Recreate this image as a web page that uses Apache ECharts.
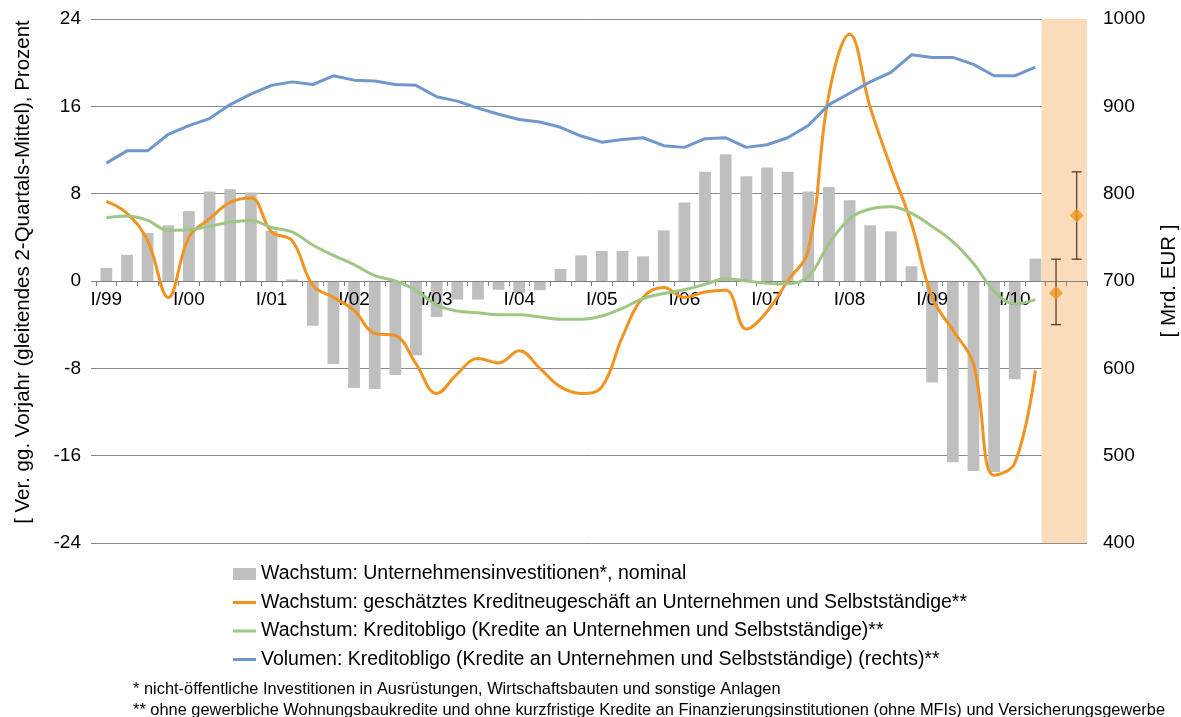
<!DOCTYPE html>
<html>
<head>
<meta charset="utf-8">
<script src="https://cdn.jsdelivr.net/npm/echarts@6/dist/echarts.min.js"></script>
<style>
html,body{margin:0;padding:0;background:#fff;}
#chart{width:1181px;height:717px;}
</style>
</head>
<body>
<div id="chart"></div>
<script>
// Quarters I/99 ... IV/10
const years = ['99','00','01','02','03','04','05','06','07','08','09','10'];
const quarterNames = ['I','II','III','IV'];
const categories = [];
years.forEach(y => quarterNames.forEach(q => categories.push(q + '/' + y)));

// Growth: business investment (bars, %)
const investGrowth = [1.2, 2.4, 4.4, 5.1, 6.4, 8.2, 8.4, 8.1, 4.6, 0.15, -4.1, -7.6,
  -9.8, -9.9, -8.6, -6.8, -3.3, -1.7, -1.7, -0.8, -1.1, -0.85, 1.1, 2.35,
  2.75, 2.75, 2.26, 4.64, 7.2, 10.0, 11.6, 9.6, 10.4, 10.0, 8.2, 8.6,
  7.4, 5.1, 4.55, 1.35, -9.3, -16.6, -17.4, -17.5, -9.0, 2.05, null, null];

// Growth: estimated new lending (orange, %)
const newLendingGrowth = [7.3, 6.2, 3.7, -1.5, 4.0, 5.7, 7.2, 7.6, 4.5, 3.7, -0.4, -1.5,
  -2.7, -4.8, -5.0, -7.6, -10.3, -8.5, -7.1, -7.5, -6.4, -8.0, -9.7, -10.3,
  -9.7, -5.1, -1.5, -0.6, -1.5, -1.0, -0.85, -4.4, -2.8, 0.0, 2.8, 17.1,
  22.6, 15.9, 10.4, 5.25, -1.5, -4.5, -7.6, -17.8, -16.7, -8.2, null, null];

// Growth: credit stock (green, %)
const creditStockGrowth = [5.8, 5.95, 5.55, 4.64, 4.7, 5.0, 5.4, 5.55, 4.9, 4.5, 3.3, 2.35,
  1.5, 0.5, 0.0, -0.85, -2.2, -2.75, -2.9, -3.1, -3.1, -3.3, -3.5, -3.5,
  -3.2, -2.5, -1.6, -1.15, -0.8, -0.3, 0.2, 0.0, -0.2, -0.25, 0.4, 3.4,
  5.7, 6.6, 6.8, 6.2, 5.0, 3.6, 1.6, -0.9, -2.1, -1.7, null, null];

// Volume: credit stock (blue, bn EUR, right axis)
const creditStockVolume = [835, 849, 849, 868, 878, 886, 902, 914, 924, 928, 925, 935,
  930, 929, 925, 924, 911, 906, 898, 891, 885, 882, 876, 866,
  859, 862, 864, 855, 853, 863, 864, 853, 856, 864, 878, 902,
  915, 928, 939, 959, 956, 956, 948, 935, 935, 945, null, null];

// Forecast (diamonds with ranges)
const forecastCats = ['III/10', 'IV/10'];
const forecastValue = [-1.1, 6.0];
const forecastLow = [-4.0, 2.0];
const forecastHigh = [2.0, 10.0];
// Forecast shading begins (in quarters from I/99)
const forecastStart = 45.8;
const quarterCount = 48;

const leftTicks = {min: -24, max: 24, interval: 8};
const rightTicks = {min: 400, max: 1000, interval: 100};

const names = [
  'Wachstum: Unternehmensinvestitionen*, nominal',
  'Wachstum: geschätztes Kreditneugeschäft an Unternehmen und Selbstständige**',
  'Wachstum: Kreditobligo (Kredite an Unternehmen und Selbstständige)**',
  'Volumen: Kreditobligo (Kredite an Unternehmen und Selbstständige) (rechts)**'
];

const footnotes = [
  '* nicht-öffentliche Investitionen in Ausrüstungen, Wirtschaftsbauten und sonstige Anlagen',
  '** ohne gewerbliche Wohnungsbaukredite und ohne kurzfristige Kredite an Finanzierungsinstitutionen (ohne MFIs) und Versicherungsgewerbe'
];

const FONT = '"Liberation Sans", Arial, sans-serif';
const ORANGE = '#F2921F', GREEN = '#9DC782', BLUE = '#7097CB', GRAY = '#BFBFBF';
const LINE_ICON = 'path://M0,0H23V3H0Z';

// layout
const GRID = {left: 96, right: 94, top: 19, bottom: 174};
const CH = 717;
const gridHeight = CH - GRID.top - GRID.bottom;
// place the category axis on the zero line of the left axis
const zeroOffset = -gridHeight * (0 - leftTicks.min) / (leftTicks.max - leftTicks.min);

const chart = echarts.init(document.getElementById('chart'), null, {renderer: 'canvas'});
chart.setOption({
  backgroundColor: '#ffffff',
  animation: false,
  textStyle: {fontFamily: FONT},
  grid: Object.assign({containLabel: false, outerBoundsMode: 'none'}, GRID),
  legend: {
    orient: 'vertical', left: 233, top: 564, padding: 0,
    itemWidth: 23, itemHeight: 12, itemGap: 8.5, symbolKeepAspect: true,
    textStyle: {fontSize: 19.5, color: '#000', fontFamily: FONT},
    data: [
      {name: names[0], icon: 'rect'},
      {name: names[1], icon: LINE_ICON},
      {name: names[2], icon: LINE_ICON},
      {name: names[3], icon: LINE_ICON}
    ]
  },
  xAxis: [{
    type: 'category', data: categories, boundaryGap: true,
    offset: zeroOffset, z: 1.5,
    axisLine: {onZero: false, lineStyle: {color: '#7F7F7F', width: 1}},
    axisTick: {show: true, interval: 0, length: 5, lineStyle: {color: '#7F7F7F'}},
    axisLabel: {interval: 3, fontSize: 19, color: '#000', margin: 9, fontFamily: FONT},
    splitLine: {show: false}
  }, {
    type: 'value', min: 0, max: quarterCount, show: false,
    axisLine: {onZero: false}
  }],
  yAxis: [{
    type: 'value', min: leftTicks.min, max: leftTicks.max, interval: leftTicks.interval,
    name: '[ Ver. gg. Vorjahr (gleitendes 2-Quartals-Mittel), Prozent',
    nameLocation: 'middle', nameGap: 62, nameRotate: 90,
    nameTextStyle: {fontSize: 20.5, color: '#000', fontFamily: FONT, padding: [0, 0, 0, 18]},
    axisLine: {show: false, onZero: false},
    axisTick: {show: true, length: 5, lineStyle: {color: '#7F7F7F'}},
    axisLabel: {fontSize: 19, color: '#000', margin: 15, fontFamily: FONT},
    splitLine: {show: true, lineStyle: {color: '#8C8C8C', width: 1}}
  }, {
    type: 'value', min: rightTicks.min, max: rightTicks.max, interval: rightTicks.interval,
    position: 'right',
    name: '[ Mrd. EUR ]',
    nameLocation: 'middle', nameGap: 72, nameRotate: 90,
    nameTextStyle: {fontSize: 20.5, color: '#000', fontFamily: FONT},
    axisLine: {show: false, onZero: false}, axisTick: {show: false},
    axisLabel: {fontSize: 19, color: '#000', margin: 16, fontFamily: FONT,
      formatter: v => String(v)},
    splitLine: {show: false}
  }],
  graphic: footnotes.map((t, i) => ({
    type: 'text', left: 133, top: 681 + i * 21,
    style: {text: t, font: '16.4px ' + FONT, fill: '#000'}
  })),
  series: [
    {
      name: 'forecastShade', type: 'scatter', xAxisIndex: 1, yAxisIndex: 0, z: -1,
      data: [[forecastStart, 0]], symbolSize: 0, silent: true,
      markArea: {silent: true, itemStyle: {color: '#FADCBA'},
        data: [[{xAxis: forecastStart}, {xAxis: quarterCount}]]}
    },
    {
      name: names[0], type: 'bar', data: investGrowth, barWidth: '57%', z: 1,
      itemStyle: {color: GRAY}
    },
    {
      name: names[1], type: 'line', data: newLendingGrowth, smooth: 0.4,
      symbol: 'none', lineStyle: {color: ORANGE, width: 3}, itemStyle: {color: ORANGE}
    },
    {
      name: names[2], type: 'line', data: creditStockGrowth, smooth: 0.4,
      symbol: 'none', lineStyle: {color: GREEN, width: 3}, itemStyle: {color: GREEN}
    },
    {
      name: names[3], type: 'line', data: creditStockVolume, yAxisIndex: 1,
      symbol: 'none', lineStyle: {color: BLUE, width: 3}, itemStyle: {color: BLUE}
    },
    {
      name: 'forecastRange', type: 'custom',
      data: forecastCats.map((c, i) => [c, forecastLow[i], forecastHigh[i]]),
      renderItem: function (params, api) {
        const lo = api.coord([api.value(0), api.value(1)]);
        const hi = api.coord([api.value(0), api.value(2)]);
        const cap = 5;
        const st = {stroke: '#4A3420', lineWidth: 1.2};
        return {type: 'group', children: [
          {type: 'line', shape: {x1: lo[0], y1: lo[1], x2: hi[0], y2: hi[1]}, style: st},
          {type: 'line', shape: {x1: lo[0] - cap, y1: lo[1], x2: lo[0] + cap, y2: lo[1]}, style: st},
          {type: 'line', shape: {x1: hi[0] - cap, y1: hi[1], x2: hi[0] + cap, y2: hi[1]}, style: st}
        ]};
      },
      z: 5
    },
    {
      name: 'forecast', type: 'scatter', symbol: 'diamond', symbolSize: 14,
      data: forecastCats.map((c, i) => [c, forecastValue[i]]),
      itemStyle: {color: ORANGE}, z: 6
    }
  ]
});
</script>
</body>
</html>
